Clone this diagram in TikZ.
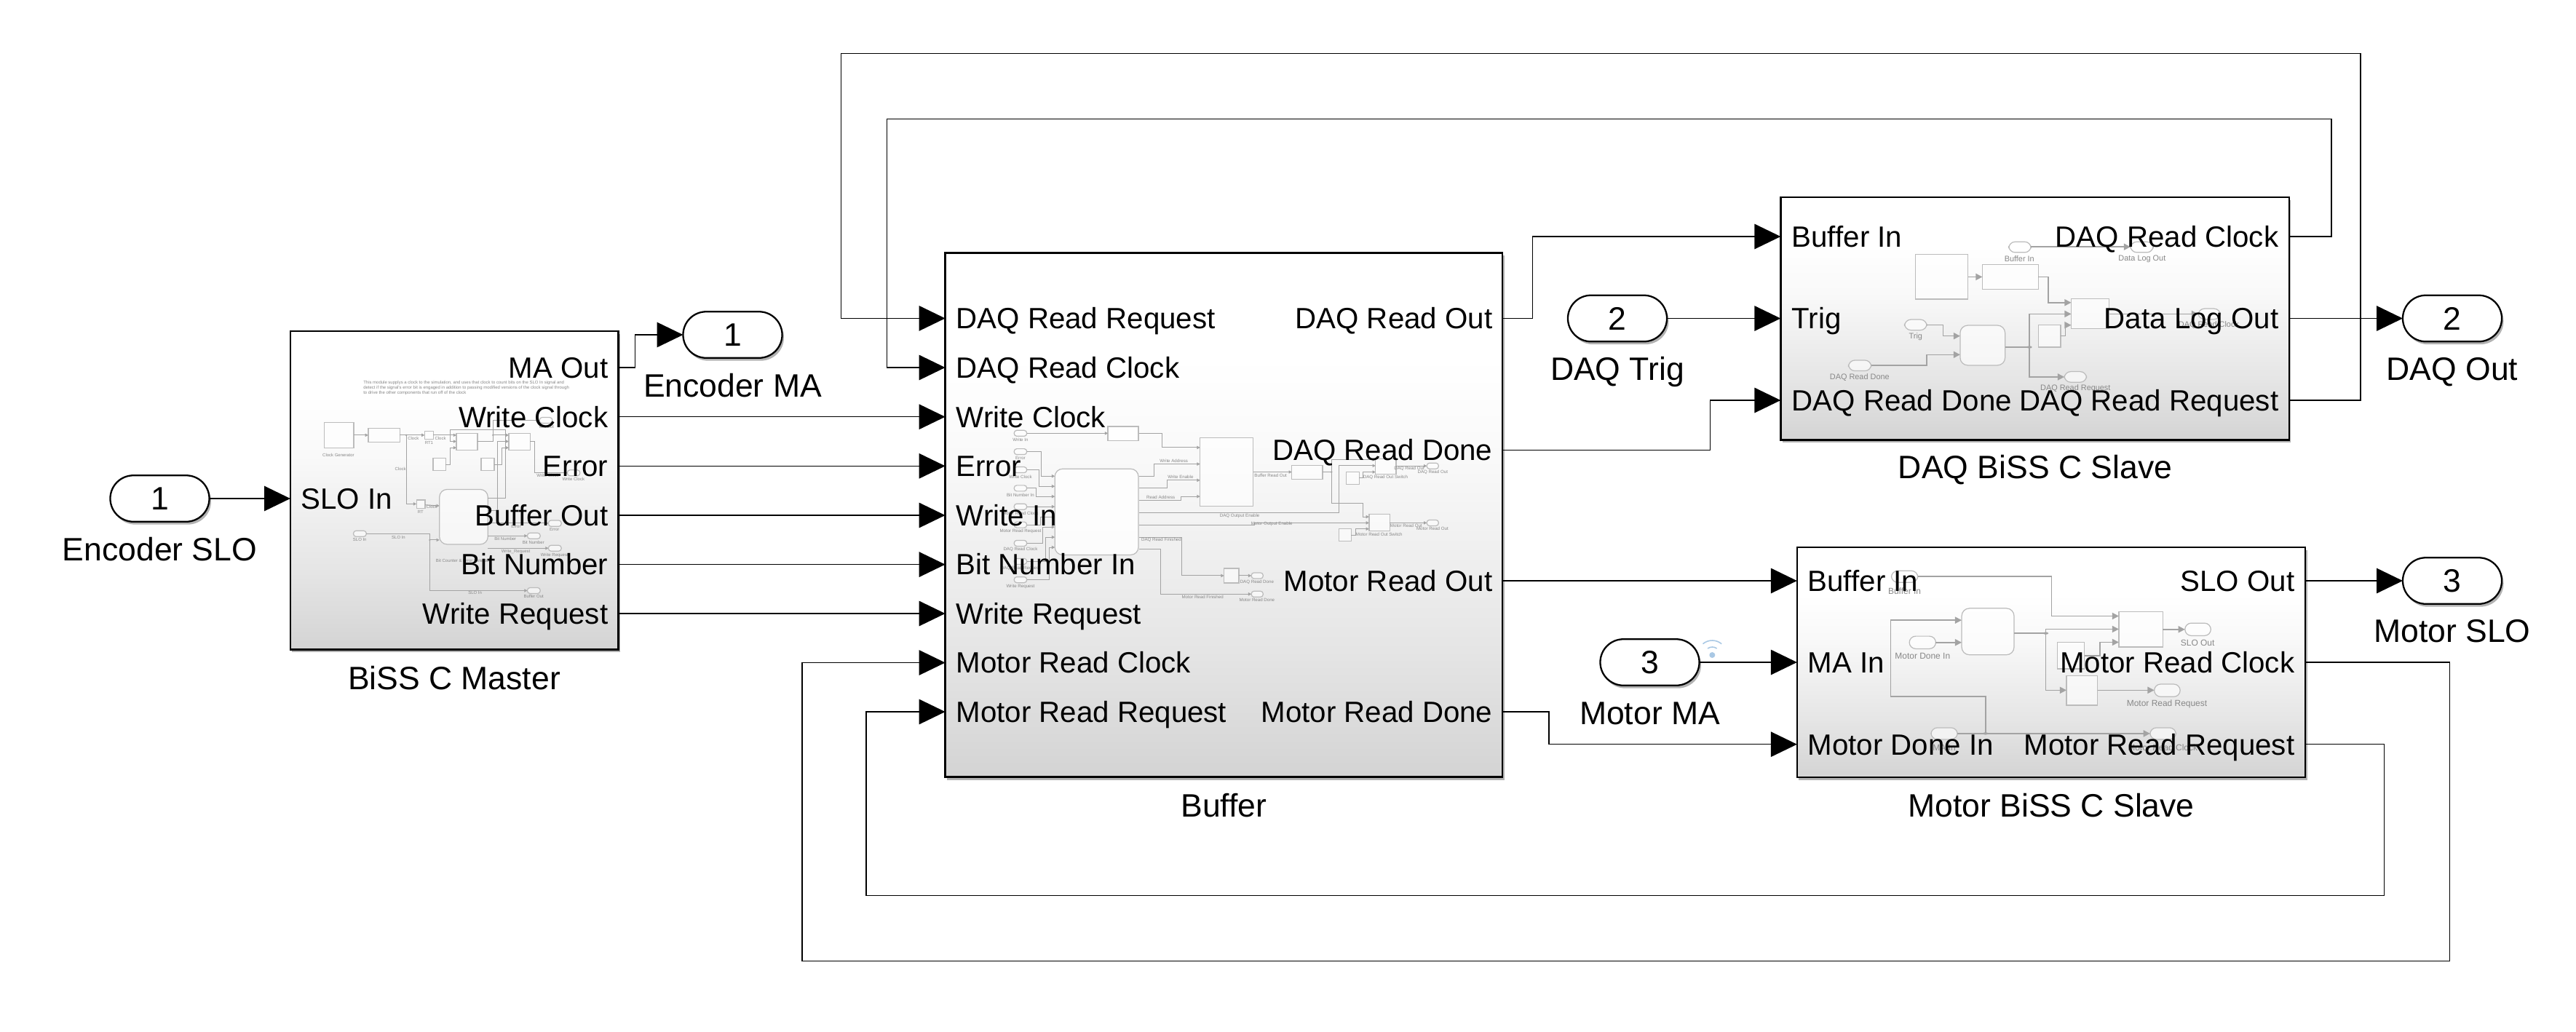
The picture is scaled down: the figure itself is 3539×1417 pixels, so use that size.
\documentclass[tikz,border=0pt]{standalone}
\usepackage{fontspec}
\setmainfont{Liberation Sans}
\usetikzlibrary{arrows.meta,shapes.misc,shadows}
\pgfdeclareverticalshading{simblock}{100bp}{rgb(0bp)=(.83,.83,.83); rgb(25bp)=(.83,.83,.83); rgb(37.5bp)=(.90,.90,.90); rgb(55bp)=(.975,.975,.975); rgb(65bp)=(1,1,1); rgb(100bp)=(1,1,1)}
\definecolor{mgray}{HTML}{A3A3A3}
\definecolor{mline}{HTML}{BCBCBC}
\definecolor{mtext}{HTML}{888888}
\definecolor{wifi}{HTML}{A9C8E4}
\newcount\mlabn
\newcommand\ml[3][]{\global\advance\mlabn by 1\relax\node[mtxt,#1] (mini\the\mlabn) at (#2) {#3};}
\tikzset{
  shd/.style={drop shadow={shadow xshift=.7pt,shadow yshift=-1.1pt,fill=black,opacity=.3}},
  block/.style={rectangle,draw=black,line width=.7pt,shading=simblock,outer sep=0pt,inner sep=0pt,shd},
  pill/.style={rounded rectangle,draw=black,fill=white,line width=.65pt,outer sep=0pt,inner sep=0pt,
     minimum width=1.36cm,minimum height=.635cm,font=\fontsize{12.66}{14}\selectfont,shd},
  plab/.style={font=\fontsize{11.45}{13}\selectfont,inner sep=0pt,text height=8.15pt,text depth=0pt},
  blab/.style={font=\fontsize{12.66}{14}\selectfont,inner sep=0pt,text height=9pt,text depth=0pt},
  wire/.style={draw=black,line width=.36pt},
  sig/.style={wire,-{Triangle[length=10.2pt,width=9.8pt,sep=0pt]}},
  mw/.style={draw=mgray,line width=#1},
  mw/.default=.28pt,
  mtip/.style={-{Triangle[length=#1,width=#1]}},
  mbox/.style={draw=mline,line width=.35pt,fill=white,fill opacity=.6},
  mdot/.style={fill=mgray,draw=none},
}
\begin{document}
\begin{tikzpicture}[x=.01cm,y=-.01cm]
\useasboundingbox (0,0) rectangle (3539,1417);
% ---- blocks
\node[block,minimum width=4.505cm,minimum height=4.371cm] (master) at (624.25,673.6) {};
\node[block,minimum width=7.652cm,minimum height=7.196cm] (buffer) at (1681.4,707.6) {};
\node[block,minimum width=6.981cm,minimum height=3.33cm] (daq) at (2795.55,437.8) {};
\node[block,minimum width=6.98cm,minimum height=3.157cm] (motor) at (2818,910.1) {};
% ---- ports
\node[pill] (pEncSLO) at (219.5,685) {1};
\node[pill] (pEncMA) at (1006.5,460) {1};
\node[pill] (pTrig) at (2222,437.5) {2};
\node[pill] (pMA) at (2266.5,910) {3};
\node[pill] (pDAQ) at (3369,437.5) {2};
\node[pill] (pSLO) at (3369,798) {3};
\node[blab] (tEncSLO) at (219.5,755) {Encoder SLO};
\node[blab] (tEncMA) at (1006.5,530) {Encoder MA};
\node[blab] (tTrig) at (2222,507) {DAQ Trig};
\node[blab] (tMA) at (2266.5,980) {Motor MA};
\node[blab] (tDAQ) at (3369,507) {DAQ Out};
\node[blab] (tSLO) at (3369,867) {Motor SLO};
\node[blab] (tMaster) at (624,932) {BiSS C Master};
\node[blab] (tBuffer) at (1681.4,1107) {Buffer};
\node[blab] (tDaqB) at (2796,642) {DAQ BiSS C Slave};
\node[blab] (tMotB) at (2818,1107) {Motor BiSS C Slave};
% ---- wifi mark
\fill[wifi] (2352.3,900) circle (4);
\draw[wifi,line width=.45pt] (2352.3,900) ++(235:11) arc[start angle=235,end angle=305,radius=11];
\draw[wifi,line width=.45pt] (2352.3,900) ++(230:20) arc[start angle=230,end angle=310,radius=20];

% ---- BiSS C Master interior
\begin{scope}[shift={(440,510)},x=.003333cm,y=-.003333cm,
   mtxt/.style={font=\fontsize{1.7}{2}\selectfont,text=mtext,inner sep=0pt}]
 \def\pr{1pt}
 \ml[anchor=west]{176,47}{This module supplys a clock to the simulation, and uses that clock to count bits on the SLO In signal and}
 \ml[anchor=west]{176,69}{detect if the signal's error bit is engaged in addition to passing modified versions of the clock signal through}
 \ml[anchor=west]{176,90}{to drive the other components that run off of the clock}
 \draw[mbox] (16,211) rectangle (138,317);
 \draw[mbox] (198,235) rectangle (329,293);
 \draw[mbox] (431,247) rectangle (467,281);
 \draw[mbox] (397,532) rectangle (433,566);
 \draw[mbox] (562,256) rectangle (649,325);
 \draw[mbox] (778,256) rectangle (866,325);
 \draw[mbox] (466,358) rectangle (518,411);
 \draw[mbox] (664,358) rectangle (718,411);
 \draw[mbox,rounded corners=3pt] (492,488) rectangle (692,715);
 \draw[mbox,rounded corners=\pr] (905,191) rectangle (958,215);
 \draw[mbox,rounded corners=\pr] (1020,408) rectangle (1072,432);
 \draw[mw,mtip=1.2pt] (138,264) -- (198,264);
 \draw[mw,mtip=1.2pt] (329,264) -- (431,264);
 \fill[mdot] (355,264) circle (4);
 \draw[mw,mtip=1.2pt] (355,264) -- (355,548) -- (397,548);
 \draw[mw,mtip=1.2pt] (467,264) -- (562,264);
 \draw[mw,mtip=1.2pt] (433,552) -- (492,556);
 \draw[mw,mtip=1.2pt] (692,523) -- (764,523) -- (764,243) -- (535,243) -- (535,290) -- (562,290);
 \draw[mw,mtip=1.2pt] (518,385) -- (535,385) -- (535,316) -- (562,316);
 \draw[mw] (649,290) -- (713,290) -- (713,264);
 \fill[mdot] (713,264) circle (4);
 \draw[mw,mtip=1.2pt] (713,264) -- (778,264);
 \draw[mw,mtip=1.2pt] (713,264) -- (713,203) -- (905,203);
 \draw[mw,mtip=1.2pt] (733,572) -- (733,290) -- (778,290);
 \draw[mw,mtip=1.2pt] (718,385) -- (750,385) -- (750,316) -- (778,316);
 \draw[mw,mtip=1.2pt] (866,290) -- (885,290) -- (885,420) -- (1020,420);
 \ml{75,348}{Clock Generator}
 \ml{384,276}{Clock}\ml{496,276}{Clock}\ml{449,297}{RT1}\ml{331,405}{Clock}\ml{414,582}{RT}
 \ml{460,561}{Clock}\ml{939,432}{Write Clock}\ml{1045,447}{Write Clock}\ml{934,231}{MA Out}
\end{scope}
\begin{scope}[shift={(440,690)},x=.003333cm,y=-.003333cm,
   mtxt/.style={font=\fontsize{1.7}{2}\selectfont,text=mtext,inner sep=0pt}]
 \def\pr{1pt}
 \draw[mbox,rounded corners=\pr] (137,118) rectangle (190,142);
 \draw[mbox,rounded corners=\pr] (855,127) rectangle (908,151);
 \draw[mbox,rounded corners=\pr] (942,75) rectangle (995,100);
 \draw[mbox,rounded corners=\pr] (942,178) rectangle (995,202);
 \draw[mbox,rounded corners=\pr] (855,353) rectangle (908,377);
 \draw[mw] (733,35) -- (692,35);
 \draw[mw,mtip=1.2pt] (692,87) -- (942,87);
 \draw[mw,mtip=1.2pt] (692,139) -- (855,139);
 \draw[mw,mtip=1.2pt] (692,190) -- (942,190);
 \draw[mw,mtip=1.2pt] (190,130) -- (452,130) -- (452,365) -- (855,365);
 \fill[mdot] (452,156) circle (4);
 \draw[mw,mtip=1.2pt] (452,156) -- (492,156);
 \ml{163,156}{SLO In}\ml{323,145}{SLO In}\ml{639,375}{SLO In}\ml{881,390}{Buffer Out}
 \ml{808,100}{Error}\ml{967,114}{Error}\ml{764,150}{Bit Number}\ml{880,165}{Bit Number}
 \ml{807,204}{Write\_Request}\ml{967,218}{Write Request}\ml{590,240}{Bit Counter \& Error Detector}
\end{scope}

% ---- Buffer interior, left part
\begin{scope}[shift={(1360,580)},x=.003333cm,y=-.003333cm,
   mtxt/.style={font=\fontsize{1.75}{2}\selectfont,text=mtext,inner sep=0pt}]
 \def\pr{1pt}
 \foreach \yy in {46,122,197,273,349,424,500,575,651}
   \draw[mbox,rounded corners=\pr] (100,\yy-12) rectangle (152,\yy+12);
 \draw[mbox,fill opacity=.85] (487,18) rectangle (613,76);
 \draw[mbox,rounded corners=3pt,fill opacity=.85] (268,193) rectangle (613,548);
 \draw[mw,mtip=1.2pt] (152,46) -- (487,46);
 \draw[mw,mtip=1.2pt] (152,122) -- (212,122) -- (212,223) -- (268,223);
 \draw[mw,mtip=1.2pt] (152,197) -- (203,197) -- (203,265) -- (268,265);
 \draw[mw,mtip=1.2pt] (152,273) -- (190,273) -- (190,307) -- (268,307);
 \draw[mw,mtip=1.2pt] (152,349) -- (268,349);
 \draw[mw,mtip=1.2pt] (152,424) -- (208,424) -- (208,391) -- (268,391);
 \draw[mw,mtip=1.2pt] (152,500) -- (218,500) -- (218,433) -- (268,433);
 \draw[mw,mtip=1.2pt] (152,575) -- (231,575) -- (231,475) -- (268,475);
 \draw[mw,mtip=1.2pt] (152,651) -- (245,651) -- (245,517) -- (268,517);
 \ml{126,72}{Write In}\ml{126,147}{Error}\ml{126,225}{Write Clock}\ml{126,300}{Bit Number In}
 \ml{126,375}{Motor Read Clock}\ml{126,450}{Motor Read Request}\ml{126,525}{DAQ Read Clock}
 \ml{126,603}{DAQ Read Request}\ml{126,678}{Write Request}
\end{scope}
% ---- Buffer interior, right part
\begin{scope}[shift={(1400,560)},x=.003827cm,y=-.003333cm,
   mtxt/.style={font=\fontsize{1.75}{2}\selectfont,text=mtext,inner sep=0pt}]
 \def\pr{1pt}
 \draw[mbox] (649,124) rectangle (839,407);
 \draw[mbox] (978,238) rectangle (1088,296);
 \draw[mbox] (1278,212) rectangle (1352,274);
 \draw[mbox] (1174,266) rectangle (1219,316);
 \draw[mbox] (1255,441) rectangle (1329,510);
 \draw[mbox] (1146,501) rectangle (1191,552);
 \draw[mbox] (735,664) rectangle (788,724);
 \draw[mbox,rounded corners=\pr] (1462,229) rectangle (1504,253);
 \draw[mbox,rounded corners=\pr] (1462,464) rectangle (1504,488);
 \draw[mbox,rounded corners=\pr] (833,682) rectangle (875,706);
 \draw[mbox,rounded corners=\pr] (833,758) rectangle (875,782);
 \draw[mw,mtip=1.2pt] (430,106) -- (514,106) -- (514,165) -- (649,165);
 \draw[mw,mtip=1.2pt] (430,283) -- (485,283) -- (485,233) -- (649,233);
 \draw[mw,mtip=1.2pt] (430,333) -- (532,333) -- (532,300) -- (649,300);
 \draw[mw,mtip=1.2pt] (430,384) -- (580,384) -- (580,367) -- (649,367);
 \draw[mw,mtip=1.2pt] (430,433) -- (1148,433) -- (1148,240) -- (1278,240);
 \draw[mw,mtip=1.2pt] (430,484) -- (845,484) -- (845,476) -- (1255,476);
 \draw[mw,mtip=1.2pt] (430,535) -- (584,535) -- (584,694) -- (735,694);
 \draw[mw,mtip=1.2pt] (430,585) -- (508,585) -- (508,770) -- (833,770);
 \draw[mw,mtip=1.2pt] (839,266) -- (978,266);
 \draw[mw] (1088,266) -- (1120,266);
 \fill[mdot] (1120,266) circle (4);
 \draw[mw,mtip=1.2pt] (1120,394) -- (1120,215) -- (1278,215);
 \draw[mw,mtip=1.2pt] (1120,394) -- (1232,394) -- (1232,451) -- (1255,451);
 \draw[mw,mtip=1.2pt] (1219,291) -- (1232,291) -- (1232,266) -- (1278,266);
 \draw[mw,mtip=1.2pt] (1191,526) -- (1206,526) -- (1206,501) -- (1255,501);
 \draw[mw,mtip=1.2pt] (1352,241) -- (1462,241);
 \draw[mw,mtip=1.2pt] (1329,476) -- (1462,476);
 \draw[mw,mtip=1.2pt] (788,694) -- (833,694);
 \ml{555,219}{Write Address}\ml{579,285}{Write Enable}\ml{508,369}{Read Address}
 \ml{791,447}{DAQ Output Enable}\ml{906,480}{Motor Output Enable}\ml{510,546}{DAQ Read Finished}
 \ml{658,783}{Motor Read Finished}\ml{902,279}{Buffer Read Out}\ml{1399,252}{DAQ Read Out}
 \ml{1483,267}{DAQ Read Out}\ml{1314,288}{DAQ Read Out Switch}\ml{1388,489}{Motor Read Out}
 \ml{1482,501}{Motor Read Out}\ml{1291,525}{Motor Read Out Switch}\ml{853,720}{DAQ Read Done}
 \ml{853,795}{Motor Read Done}
\end{scope}

% ---- DAQ slave interior
\begin{scope}[shift={(2400,250)},x=.007264cm,y=-.003333cm,
   mtxt/.style={font=\fontsize{3.1}{4}\selectfont,text=mtext,inner sep=0pt}]
 \def\pr{2.5pt}
 \draw[mbox] (319,299) rectangle (418,484);
 \draw[mbox] (445,340) rectangle (551,444);
 \draw[mbox] (613,483) rectangle (685,606);
 \draw[mbox] (551,590) rectangle (593,682);
 \draw[mbox,rounded corners=3pt] (403,592) rectangle (488,757);
 \draw[mbox,rounded corners=\pr] (495,247) rectangle (537,291);
 \draw[mbox,rounded corners=\pr] (725,247) rectangle (768,291);
 \draw[mbox,rounded corners=\pr] (298,568) rectangle (340,612);
 \draw[mbox,rounded corners=\pr] (192,736) rectangle (235,780);
 \draw[mbox,rounded corners=\pr] (600,783) rectangle (642,827);
 \draw[mbox,rounded corners=\pr] (853,523) rectangle (895,567);
 \draw[mw=.45pt,mtip=2.6pt] (537,268) -- (725,268);
 \draw[mw=.45pt,mtip=2.6pt] (418,392) -- (445,392);
 \draw[mw=.45pt,mtip=2.6pt] (551,392) -- (570,392) -- (570,498) -- (613,498);
 \draw[mw=.45pt,mtip=2.6pt] (340,590) -- (371,590) -- (371,636) -- (403,636);
 \draw[mw=.45pt,mtip=2.6pt] (235,758) -- (340,758) -- (340,713) -- (403,713);
 \draw[mw=.45pt] (488,682) -- (534,682);
 \fill[mdot] (534,682) circle (5);
 \draw[mw=.45pt,mtip=2.6pt] (534,682) -- (534,545) -- (613,545);
 \draw[mw=.45pt,mtip=2.6pt] (534,682) -- (534,805) -- (600,805);
 \draw[mw=.45pt,mtip=2.6pt] (593,636) -- (602,636) -- (602,591) -- (613,591);
 \draw[mw=.45pt,mtip=2.6pt] (685,545) -- (853,545);
 \ml{515,317}{Buffer In}\ml{747,317}{Data Log Out}\ml{319,638}{Trig}\ml{213,806}{DAQ Read Done}
 \ml{621,853}{DAQ Read Request}\ml{873,592}{DAQ Read Clock}
\end{scope}

% ---- Motor slave interior
\begin{scope}[shift={(2400,730)},x=.007264cm,y=-.003333cm,
   mtxt/.style={font=\fontsize{3.4}{4}\selectfont,text=mtext,inner sep=0pt}]
 \def\pr{2.5pt}
 \draw[mbox,rounded corners=3pt] (406,318) rectangle (505,510);
 \draw[mbox] (703,332) rectangle (786,478);
 \draw[mbox] (587,458) rectangle (638,568);
 \draw[mbox] (604,596) rectangle (663,718);
 \draw[mbox,rounded corners=\pr] (273,163) rectangle (323,211);
 \draw[mbox,rounded corners=\pr] (828,379) rectangle (877,431);
 \draw[mbox,rounded corners=\pr] (307,433) rectangle (357,485);
 \draw[mbox,rounded corners=\pr] (348,811) rectangle (398,859);
 \draw[mbox,rounded corners=\pr] (762,811) rectangle (811,859);
 \draw[mbox,rounded corners=\pr] (770,631) rectangle (819,683);
 \draw[mw=.45pt,mtip=2.6pt] (323,187) -- (576,187) -- (576,350) -- (703,350);
 \draw[mw=.45pt] (505,421) -- (565,421);
 \fill[mdot] (565,421) circle (5);
 \draw[mw=.45pt,mtip=2.6pt] (565,421) -- (565,404) -- (703,404);
 \draw[mw=.45pt,mtip=2.6pt] (565,421) -- (565,656) -- (604,656);
 \draw[mw=.45pt,mtip=2.6pt] (786,405) -- (828,405);
 \draw[mw=.45pt,mtip=2.6pt] (357,459) -- (406,459);
 \draw[mw=.45pt,mtip=2.6pt] (398,835) -- (762,835);
 \fill[mdot] (451,835) circle (5);
 \draw[mw=.45pt,mtip=2.6pt] (451,835) -- (451,682) -- (272,682) -- (272,367) -- (406,367);
 \draw[mw=.45pt,mtip=2.6pt] (638,513) -- (667,513) -- (667,458) -- (703,458);
 \draw[mw=.45pt,mtip=2.6pt] (663,656) -- (770,656);
 \ml{298,246}{Buffer In}\ml{852,461}{SLO Out}\ml{332,516}{Motor Done In}\ml{373,895}{MA In}
 \ml{786,893}{Motor Read Clock}\ml{794,714}{Motor Read Request}
\end{scope}

% ---- port labels
\node[plab,anchor=west] (lMslo) at (413,685) {SLO In};
\node[plab,anchor=east] (lMma) at (836,505) {MA Out};
\node[plab,anchor=east] (lMwc) at (836,572.7) {Write Clock};
\node[plab,anchor=east] (lMer) at (836,640.3) {Error};
\node[plab,anchor=east] (lMbo) at (836,708) {Buffer Out};
\node[plab,anchor=east] (lMbn) at (836,775.6) {Bit Number};
\node[plab,anchor=east] (lMwr) at (836,843) {Write Request};

\node[plab,anchor=west] (lBdrr) at (1313,437.4) {DAQ Read Request};
\node[plab,anchor=west] (lBdrc) at (1313,505) {DAQ Read Clock};
\node[plab,anchor=west] (lBwc) at (1313,572.7) {Write Clock};
\node[plab,anchor=west] (lBer) at (1313,640.3) {Error};
\node[plab,anchor=west] (lBwi) at (1313,708) {Write In};
\node[plab,anchor=west] (lBbn) at (1313,775.6) {Bit Number In};
\node[plab,anchor=west] (lBwr) at (1313,843) {Write Request};
\node[plab,anchor=west] (lBmrc) at (1313,910.5) {Motor Read Clock};
\node[plab,anchor=west] (lBmrr) at (1313,978) {Motor Read Request};
\node[plab,anchor=east] (lBdro) at (2051,437.5) {DAQ Read Out};
\node[plab,anchor=east] (lBdrd) at (2051,618.5) {DAQ Read Done};
\node[plab,anchor=east] (lBmro) at (2051,798) {Motor Read Out};
\node[plab,anchor=east] (lBmrd) at (2051,978) {Motor Read Done};

\node[plab,anchor=west] (lDbi) at (2461,325) {Buffer In};
\node[plab,anchor=west] (lDtr) at (2461,437.5) {Trig};
\node[plab,anchor=west] (lDrd) at (2461,550) {DAQ Read Done};
\node[plab,anchor=east] (lDrc) at (3131,325) {DAQ Read Clock};
\node[plab,anchor=east] (lDlo) at (3131,437.5) {Data Log Out};
\node[plab,anchor=east] (lDrr) at (3131,550) {DAQ Read Request};

\node[plab,anchor=west] (lSbi) at (2483,798) {Buffer In};
\node[plab,anchor=west] (lSma) at (2483,910) {MA In};
\node[plab,anchor=west] (lSdi) at (2483,1022.7) {Motor Done In};
\node[plab,anchor=east] (lSso) at (3153,798) {SLO Out};
\node[plab,anchor=east] (lSrc) at (3153,910) {Motor Read Clock};
\node[plab,anchor=east] (lSrr) at (3153,1022.7) {Motor Read Request};

% ---- connectors
\coordinate (clkNE) at (3203,163.3);
\coordinate (clkNW) at (1218.3,163.3);
\coordinate (reqNE) at (3243,73.3);
\coordinate (reqNW) at (1155.3,73.3);
\coordinate (mclkSE) at (3365.3,1320.3);
\coordinate (mclkSW) at (1102,1320.3);
\coordinate (mreqSE) at (3275.3,1230.3);
\coordinate (mreqSW) at (1190,1230.3);
\draw[sig] (pEncSLO.east) -- (master.west |- pEncSLO.east);
\draw[sig] (master.east |- lMma) -- ++(23,0) |- (pEncMA.west);
\draw[sig] (master.east |- lMwc) -- (buffer.west |- lBwc);
\draw[sig] (master.east |- lMer) -- (buffer.west |- lBer);
\draw[sig] (master.east |- lMbo) -- (buffer.west |- lBwi);
\draw[sig] (master.east |- lMbn) -- (buffer.west |- lBbn);
\draw[sig] (master.east |- lMwr) -- (buffer.west |- lBwr);
\draw[sig] (buffer.east |- lBdro) -- ++(41,0) |- (daq.west |- lDbi);
\draw[sig] (buffer.east |- lBdrd) -- ++(285.5,0) |- (daq.west |- lDrd);
\draw[sig] (buffer.east |- lBmro) -- (motor.west |- lBmro);
\draw[sig] (buffer.east |- lBmrd) -- ++(63.7,0) |- (motor.west |- lSdi);
\draw[sig] (pTrig.east) -- (daq.west |- pTrig.east);
\draw[sig] (pMA.east) -- (motor.west |- pMA.east);
\draw[sig] (daq.east |- lDlo) -- (pDAQ.west);
\draw[sig] (motor.east |- lSso) -- (pSLO.west);
\draw[sig] (daq.east |- lDrc) -| (clkNE) -- (clkNW) |- (buffer.west |- lBdrc);
\draw[sig] (daq.east |- lDrr) -| (reqNE) -- (reqNW) |- (buffer.west |- lBdrr);
\draw[sig] (motor.east |- lSrc) -| (mclkSE) -- (mclkSW) |- (buffer.west |- lBmrc);
\draw[sig] (motor.east |- lSrr) -| (mreqSE) -- (mreqSW) |- (buffer.west |- lBmrr);
\end{tikzpicture}
\end{document}
